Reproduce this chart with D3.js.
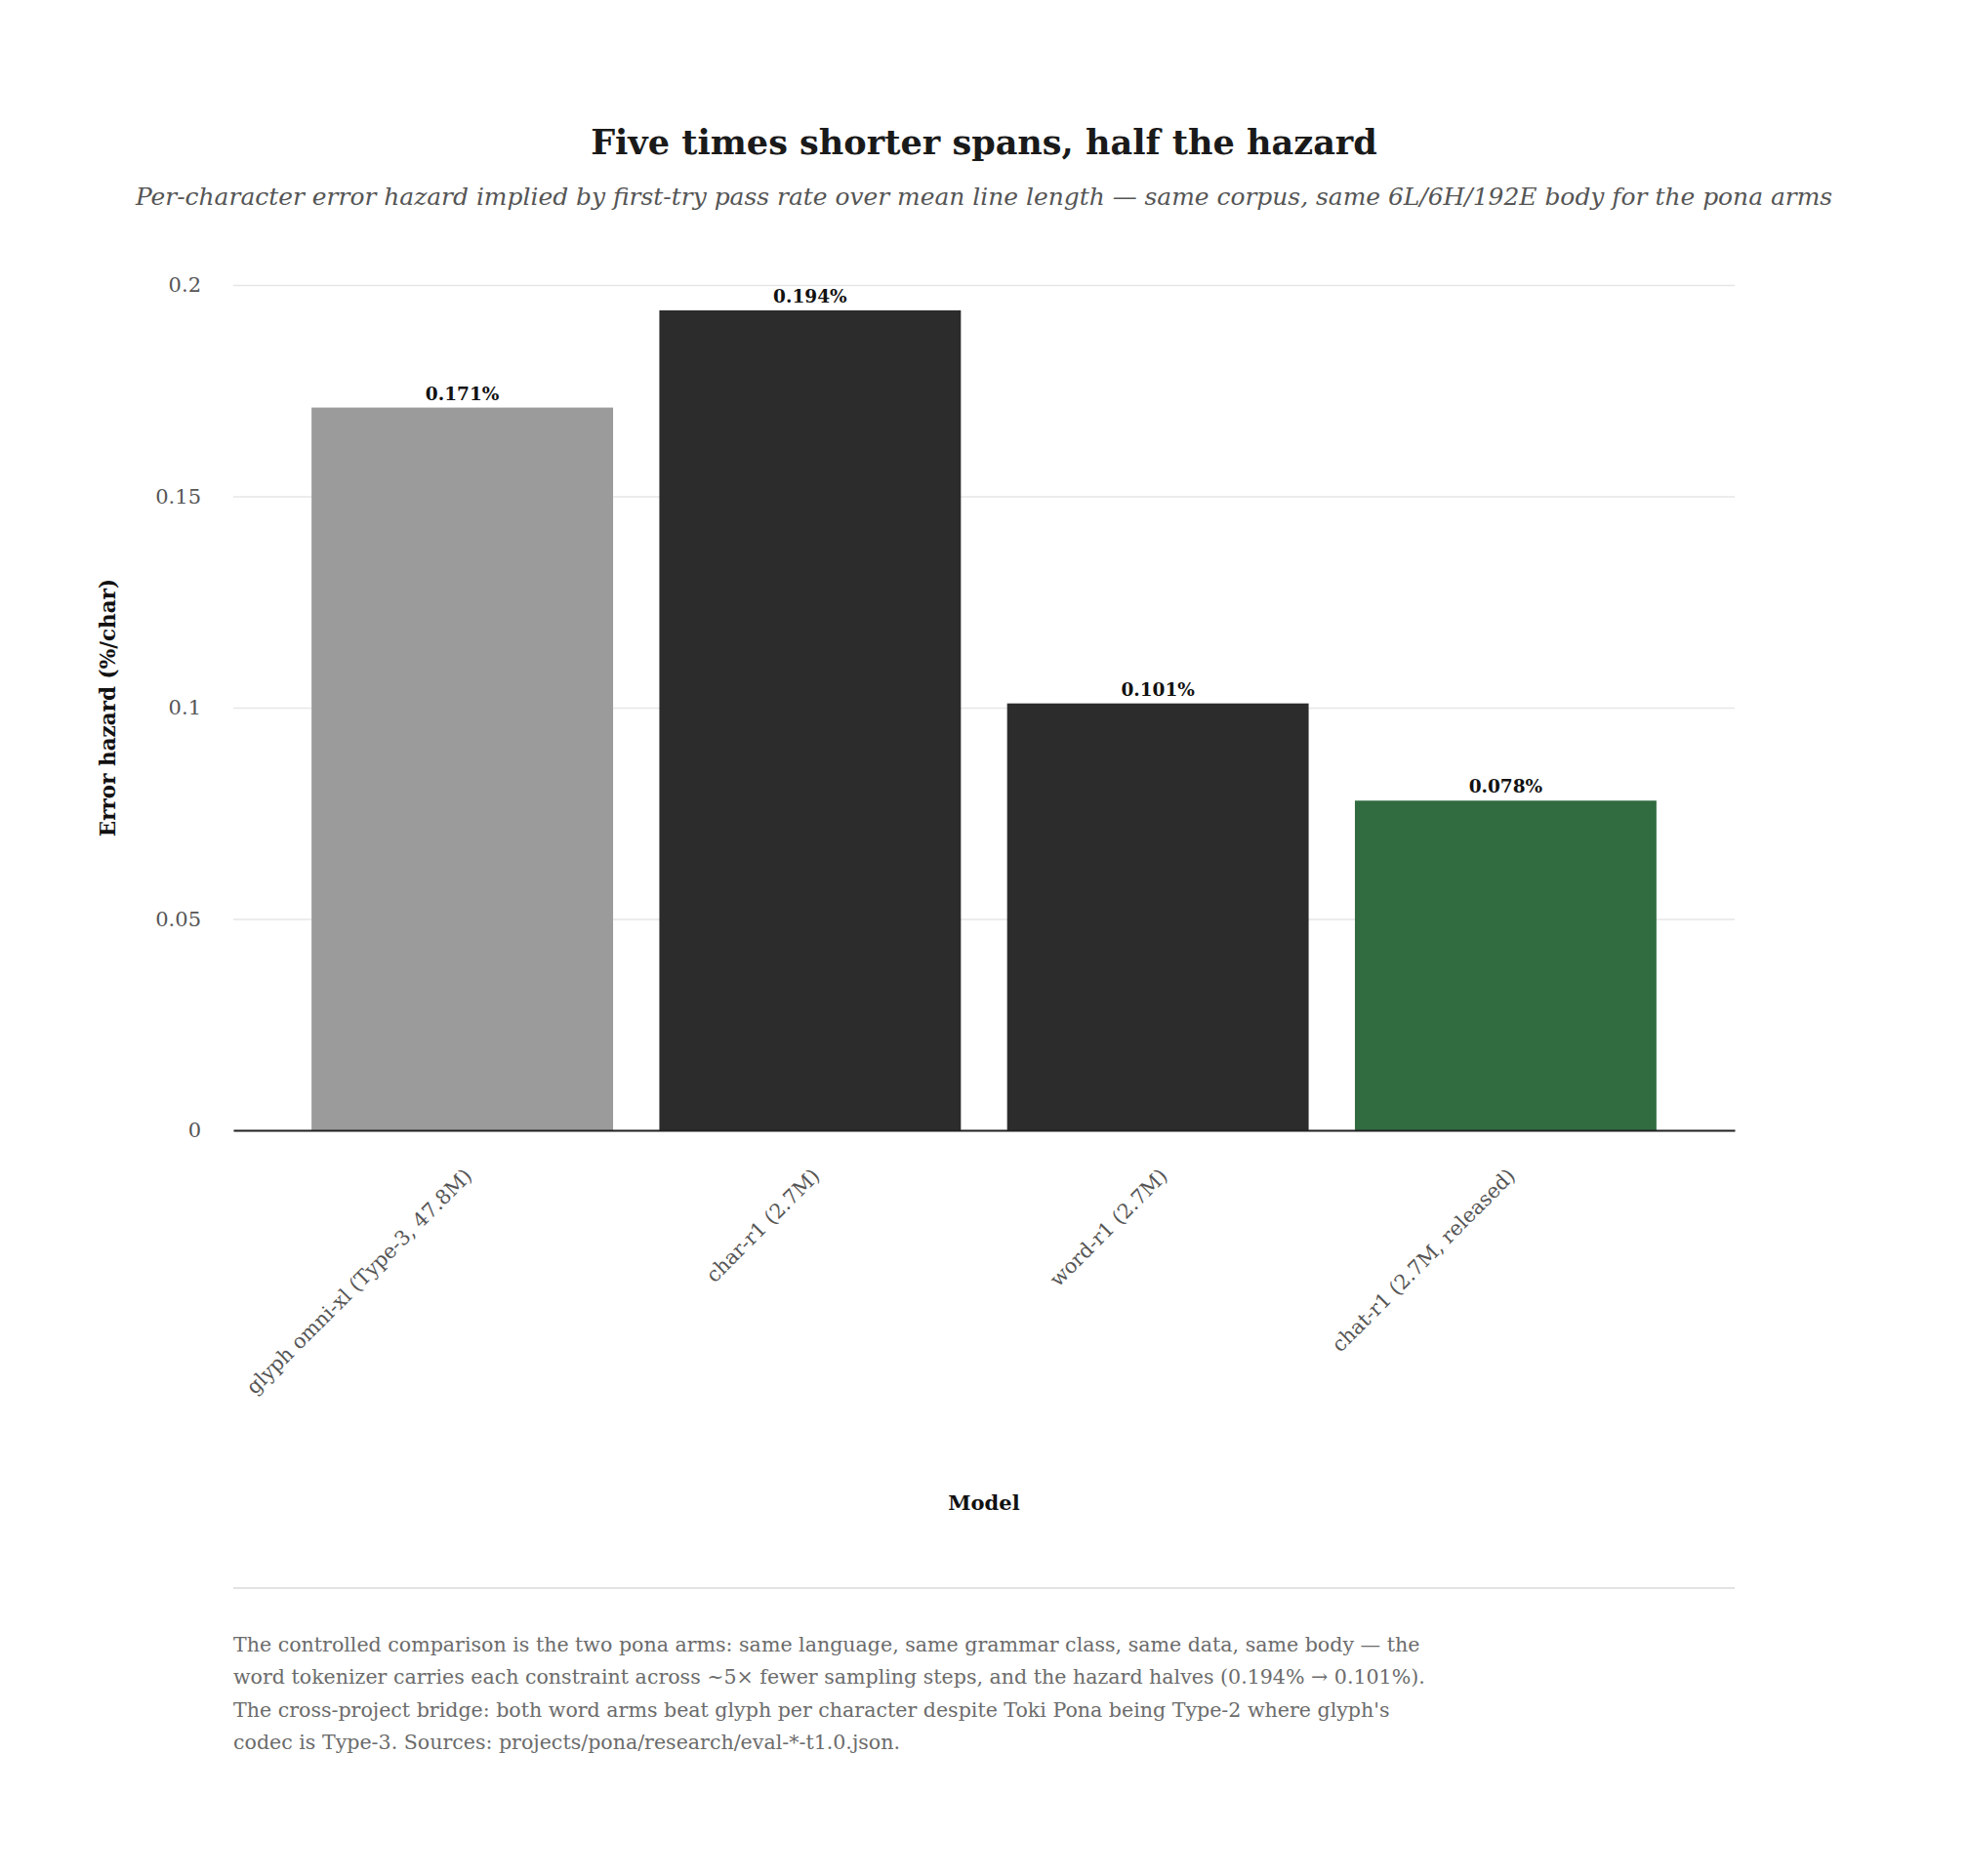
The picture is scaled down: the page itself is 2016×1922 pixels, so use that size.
<!DOCTYPE html>
<html>
<head>
<meta charset="utf-8">
<script src="https://cdn.jsdelivr.net/npm/d3@7"></script>
<style>
  html, body { margin: 0; padding: 0; background: #fff; }
  svg { display: block; font-family: "DejaVu Serif", serif; }
</style>
</head>
<body>
<div id="chart"></div>
<script>
// chart values
const models = ["glyph omni-xl (Type-3, 47.8M)", "char-r1 (2.7M)", "word-r1 (2.7M)", "chat-r1 (2.7M, released)"];
const hazard = [0.171, 0.194, 0.101, 0.078];
const barLabels = ["0.171%", "0.194%", "0.101%", "0.078%"];
const barColors = ["#9b9b9b", "#2c2c2c", "#2c2c2c", "#316b40"];
const yTicks = [0, 0.05, 0.1, 0.15, 0.2];
const yTickLabels = ["0", "0.05", "0.1", "0.15", "0.2"];

const title = "Five times shorter spans, half the hazard";
const subtitle = "Per-character error hazard implied by first-try pass rate over mean line length \u2014 same corpus, same 6L/6H/192E body for the pona arms";
const yTitle = "Error hazard (%/char)";
const xTitle = "Model";
const notes = [
  "The controlled comparison is the two pona arms: same language, same grammar class, same data, same body \u2014 the",
  "word tokenizer carries each constraint across ~5\u00d7 fewer sampling steps, and the hazard halves (0.194% \u2192 0.101%).",
  "The cross-project bridge: both word arms beat glyph per character despite Toki Pona being Type-2 where glyph's",
  "codec is Type-3. Sources: projects/pona/research/eval-*-t1.0.json."
];

const W = 2016, H = 1922;
const plot = { left: 239, right: 1777, top: 292, bottom: 1158 };
const centerX = W / 2;

const svg = d3.select("#chart").append("svg")
  .attr("width", W)
  .attr("height", H);

// scale a text so it spans a given width
function fitWidth(sel, target) {
  const w = sel.node().getComputedTextLength();
  const fs = parseFloat(sel.style("font-size"));
  const size = fs * target / w;
  sel.style("font-size", size + "px");
  return size;
}

// title + subtitle
const t = svg.append("text")
  .attr("x", centerX).attr("y", 158)
  .attr("text-anchor", "middle")
  .style("font-size", "36px").style("font-weight", "bold")
  .attr("fill", "#1a1a1a")
  .text(title);
fitWidth(t, 806);

const st = svg.append("text")
  .attr("x", centerX).attr("y", 210)
  .attr("text-anchor", "middle")
  .style("font-size", "24px").style("font-style", "italic")
  .attr("fill", "#555")
  .text(subtitle);
fitWidth(st, 1739);

// scales
const x = d3.scaleBand()
  .domain(models)
  .range([plot.left, plot.right])
  .paddingInner(0.133)
  .paddingOuter(0.225);

const y = d3.scaleLinear()
  .domain([0, 0.2])
  .range([plot.bottom, plot.top]);

// gridlines + y tick labels
const yAxis = d3.axisLeft(y)
  .tickValues(yTicks)
  .tickFormat((d, i) => yTickLabels[i])
  .tickSize(-(plot.right - plot.left))
  .tickPadding(33);

const gy = svg.append("g")
  .attr("transform", "translate(" + plot.left + ",0)")
  .call(yAxis);
gy.select(".domain").remove();
gy.selectAll(".tick line")
  .attr("stroke", "#e6e6e6")
  .attr("stroke-width", 1.6);
gy.selectAll(".tick text")
  .attr("fill", "#555")
  .style("font-size", "21px")
  .style("font-family", "DejaVu Serif, serif");

// bars
svg.selectAll(".bar")
  .data(models)
  .enter().append("rect")
  .attr("class", "bar")
  .attr("x", d => x(d))
  .attr("width", x.bandwidth())
  .attr("y", (d, i) => y(hazard[i]))
  .attr("height", (d, i) => y(0) - y(hazard[i]))
  .attr("fill", (d, i) => barColors[i]);

// value labels
svg.selectAll(".val")
  .data(models)
  .enter().append("text")
  .attr("class", "val")
  .attr("x", d => x(d) + x.bandwidth() / 2)
  .attr("y", (d, i) => y(hazard[i]) - 8)
  .attr("text-anchor", "middle")
  .style("font-size", "18.5px").style("font-weight", "bold")
  .attr("fill", "#111")
  .text((d, i) => barLabels[i]);

// x axis
const gx = svg.append("g")
  .attr("transform", "translate(0," + y(0) + ")")
  .call(d3.axisBottom(x).tickSize(0).tickFormat(""));
gx.select(".domain")
  .attr("stroke", "#222")
  .attr("stroke-width", 2.2);

svg.selectAll(".xlab")
  .data(models)
  .enter().append("text")
  .attr("class", "xlab")
  .attr("transform", d => "translate(" + (x(d) + x.bandwidth() / 2 + 11) + "," + (y(0) + 48) + ") rotate(-45)")
  .attr("text-anchor", "end")
  .style("font-size", "20.7px")
  .attr("fill", "#555")
  .text(d => d);

// axis titles
svg.append("text")
  .attr("transform", "translate(110," + ((plot.top + plot.bottom) / 2) + ") rotate(-90)")
  .attr("dy", "0.35em")
  .attr("text-anchor", "middle")
  .style("font-size", "21.5px").style("font-weight", "bold")
  .attr("fill", "#111")
  .text(yTitle);

svg.append("text")
  .attr("x", centerX).attr("y", 1547)
  .attr("text-anchor", "middle")
  .style("font-size", "21px").style("font-weight", "bold")
  .attr("fill", "#111")
  .text(xTitle);

// separator + footnote
svg.append("line")
  .attr("x1", plot.left).attr("x2", plot.right)
  .attr("y1", 1627).attr("y2", 1627)
  .attr("stroke", "#e2e2e2")
  .attr("stroke-width", 2);

const noteLines = svg.selectAll(".note")
  .data(notes)
  .enter().append("text")
  .attr("class", "note")
  .attr("x", plot.left)
  .attr("y", (d, i) => 1692 + i * 33.3)
  .style("font-size", "20px")
  .attr("fill", "#6b6b6b")
  .text(d => d);

const noteSize = fitWidth(d3.select(noteLines.nodes()[0]), 1216);
noteLines.style("font-size", noteSize + "px");
</script>
</body>
</html>
